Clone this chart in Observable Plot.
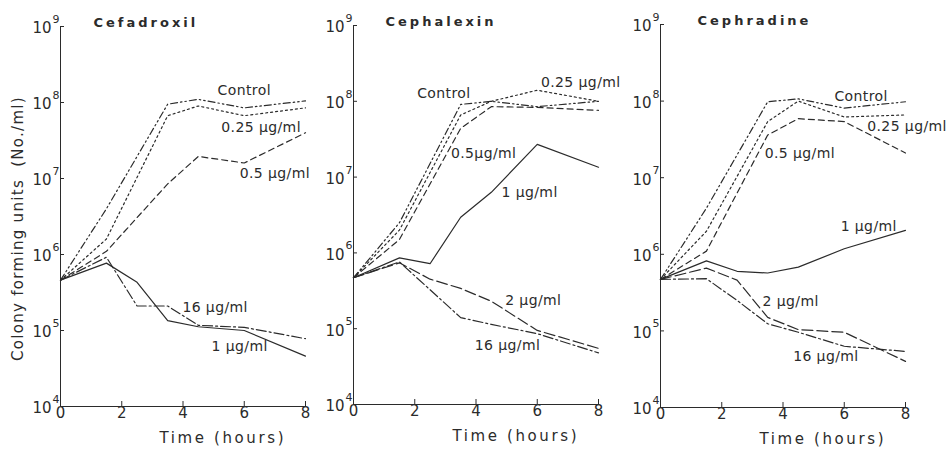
<!DOCTYPE html>
<html>
<head>
<meta charset="utf-8">
<script src="https://cdn.jsdelivr.net/npm/d3@7"></script>
<script src="https://cdn.jsdelivr.net/npm/@observablehq/plot@0.6"></script>
<style>
  html, body { margin: 0; padding: 0; background: #fff; }
  #wrap { position: relative; width: 948px; height: 449px; overflow: hidden; }
  #wrap svg { position: absolute; top: 0; overflow: visible; }
</style>
</head>
<body>
<div id="wrap"></div>
<script>
// ---------- data ----------
const times = [0, 1.5, 2.5, 3.5, 4.5, 6, 8];
const panels = ["Cefadroxil", "Cephalexin", "Cephradine"];
const seriesNames = ["Control", "0.25 µg/ml", "0.5 µg/ml", "1 µg/ml", "2 µg/ml", "16 µg/ml"];
const yTicks = [1e4, 1e5, 1e6, 1e7, 1e8, 1e9];
const yTickExponents = ["4", "5", "6", "7", "8", "9"];
const xTicks = [0, 2, 4, 6, 8];
const xTitle = "Time (hours)";
const yTitle = "Colony forming units  (No./ml)";

// Cefadroxil
const cefadroxilControl = [4.6e5, 4.0e6, null, 9.5e7, 1.1e8, 8.5e7, 1.05e8];
const cefadroxil025     = [4.6e5, 1.6e6, null, 6.7e7, 9.0e7, 6.7e7, 8.5e7];
const cefadroxil05      = [4.6e5, 1.1e6, null, 8.5e6, 1.95e7, 1.6e7, 4.0e7];
const cefadroxil1       = [4.6e5, 7.7e5, 4.3e5, 1.35e5, 1.12e5, 1.0e5, 4.6e4];
const cefadroxil16      = [4.6e5, 9.2e5, 2.1e5, 2.1e5, 1.17e5, 1.1e5, 7.8e4];

// Cephalexin
const cephalexinControl = [4.7e5, 2.5e6, null, 9.1e7, 1.0e8, 8.5e7, 1.0e8];
const cephalexin025     = [4.7e5, 2.0e6, null, 6.6e7, 1.0e8, 1.4e8, 1.0e8];
const cephalexin05      = [4.7e5, 1.5e6, null, 4.4e7, 8.5e7, 8.3e7, 7.6e7];
const cephalexin1       = [4.7e5, 8.6e5, 7.2e5, 2.95e6, 6.3e6, 2.7e7, 1.35e7];
const cephalexin2       = [4.7e5, 7.4e5, 4.5e5, 3.4e5, 2.3e5, 9.5e4, 5.5e4];
const cephalexin16      = [4.7e5, 7.6e5, null, 1.4e5, 1.14e5, 8.6e4, 4.8e4];

// Cephradine
const cephradineControl = [4.7e5, 4.0e6, null, 9.8e7, 1.07e8, 8.1e7, 9.8e7];
const cephradine025     = [4.7e5, 2.0e6, null, 5.4e7, 1.0e8, 6.2e7, 6.6e7];
const cephradine05      = [4.7e5, 1.1e6, null, 3.6e7, 5.9e7, 5.4e7, 2.1e7];
const cephradine1       = [4.7e5, 8.2e5, 6.0e5, 5.7e5, 6.8e5, 1.18e6, 2.05e6];
const cephradine2       = [4.7e5, 6.6e5, 4.6e5, 1.5e5, 1.04e5, 9.6e4, 4.0e4];
const cephradine16      = [4.7e5, 4.8e5, 2.5e5, 1.24e5, 9.6e4, 6.3e4, 5.4e4];

// Label anchor positions [text, time, value] per panel
const cefadroxilLabels = [["Control", 6.0, 1.45e8], ["0.25 µg/ml", 6.55, 4.7e7], ["0.5 µg/ml", 7.0, 1.17e7], ["16 µg/ml", 5.05, 2.0e5], ["1 µg/ml", 5.85, 6.2e4]];
const cephalexinLabels = [["Control", 2.95, 1.26e8], ["0.25 µg/ml", 7.42, 1.78e8], ["0.5µg/ml", 4.25, 2.05e7], ["1 µg/ml", 5.75, 6.3e6], ["2 µg/ml", 5.87, 2.35e5], ["16 µg/ml", 5.03, 6.0e4]];
const cephradineLabels = [["Control", 6.55, 1.15e8], ["0.25 µg/ml", 8.05, 4.7e7], ["0.5 µg/ml", 4.55, 2.05e7], ["1 µg/ml", 6.8, 2.3e6], ["2 µg/ml", 4.25, 2.4e5], ["16 µg/ml", 5.4, 4.6e4]];

// ---------- styling ----------
const dashes = {
  "Control": "7,3,1.5,3,1.5,3",
  "0.25 µg/ml": "2,3",
  "0.5 µg/ml": "6,4",
  "1 µg/ml": null,
  "2 µg/ml": "11,4",
  "16 µg/ml": "10,3,2,3"
};
const ink = "#2b2b2b";
const font = "'DejaVu Sans', sans-serif";

function buildRows(seriesArrays) {
  const rows = [];
  for (const [name, values] of seriesArrays) {
    values.forEach((v, i) => { if (v != null) rows.push({series: name, t: times[i], v}); });
  }
  return rows;
}

const panelData = [
  {title: panels[0], left: 0, width: 312, ml: 60, mt: 26, mb: 43, yLabel: true,
   series: [["Control", cefadroxilControl], ["0.25 µg/ml", cefadroxil025], ["0.5 µg/ml", cefadroxil05], ["1 µg/ml", cefadroxil1], ["16 µg/ml", cefadroxil16]],
   labels: cefadroxilLabels, titleDx: 33},
  {title: panels[1], left: 312, width: 312, ml: 41, mt: 25, mb: 45,
   series: [["Control", cephalexinControl], ["0.25 µg/ml", cephalexin025], ["0.5 µg/ml", cephalexin05], ["1 µg/ml", cephalexin1], ["2 µg/ml", cephalexin2], ["16 µg/ml", cephalexin16]],
   labels: cephalexinLabels, titleDx: 32},
  {title: panels[2], left: 624, width: 324, ml: 36, mt: 24, mb: 42,
   series: [["Control", cephradineControl], ["0.25 µg/ml", cephradine025], ["0.5 µg/ml", cephradine05], ["1 µg/ml", cephradine1], ["2 µg/ml", cephradine2], ["16 µg/ml", cephradine16]],
   labels: cephradineLabels, titleDx: 37}
];

const wrap = document.getElementById("wrap");

for (const p of panelData) {
  const plotW = 245;
  const rows = buildRows(p.series);
  const marks = [
    Plot.axisY({ticks: yTicks, tickFormat: () => "", tickSize: -4, label: null}),
    // "10" base and exponent drawn as two texts at each log tick
    Plot.text(yTicks, {y: (d) => d, frameAnchor: "left", dx: -9, dy: 2, text: () => "10",
                       textAnchor: "end", fontSize: 15, fill: ink}),
    Plot.text(yTicks, {y: (d) => d, frameAnchor: "left", dx: -8, dy: -7, text: (d, i) => yTickExponents[i],
                       textAnchor: "start", fontSize: 11, fill: ink}),
    Plot.axisX({ticks: xTicks, tickFormat: (d) => String(d), tickSize: -5, tickPadding: 6, fontSize: 15, label: null}),
    Plot.ruleY([1e4], {stroke: ink, strokeWidth: 1}),
    Plot.ruleX([0], {stroke: ink, strokeWidth: 1})
  ];
  for (const [name] of p.series) {
    marks.push(Plot.line(rows.filter(r => r.series === name), {
      x: "t", y: "v", stroke: ink, strokeWidth: 1.2,
      strokeDasharray: dashes[name] || undefined
    }));
  }
  marks.push(Plot.text(p.labels, {
    x: (d) => d[1], y: (d) => d[2], text: (d) => d[0],
    fontSize: 14, fill: ink, textAnchor: "middle"
  }));
  marks.push(Plot.text([p.title], {
    frameAnchor: "top-left", dx: p.titleDx, dy: -9, textAnchor: "start",
    fontSize: 13, fontWeight: "bold", fill: ink
  }));
  marks.push(Plot.text([xTitle], {
    x: () => 5.3, y: () => 1e4, dy: 32, textAnchor: "middle",
    fontSize: 15, fill: ink
  }));
  if (p.yLabel) {
    marks.push(Plot.text([yTitle], {
      frameAnchor: "left", dx: -42, dy: 12, rotate: -90, textAnchor: "middle",
      fontSize: 15, fill: ink
    }));
  }
  const chart = Plot.plot({
    width: p.width,
    height: 449,
    marginLeft: p.ml,
    marginRight: p.width - p.ml - plotW,
    marginTop: p.mt,
    marginBottom: p.mb,
    style: {fontFamily: font, color: ink, background: "transparent", overflow: "visible"},
    x: {domain: [0, 8]},
    y: {type: "log", domain: [1e4, 1e9]},
    marks
  });
  chart.style.left = p.left + "px";
  // letter spacing for the hand-lettered look (applied by text content)
  const labelTexts = new Set(p.labels.map(d => d[0]));
  d3.select(chart).selectAll("text").each(function () {
    const s = this.textContent;
    let ls = null;
    if (s === p.title) ls = "3px";
    else if (s === xTitle) ls = "2.6px";
    else if (s === yTitle) ls = "1.3px";
    else if (labelTexts.has(s)) ls = "0.4px";
    if (ls) { this.style.letterSpacing = ls; this.setAttribute("letter-spacing", ls); }
  });
  wrap.appendChild(chart);
}
</script>
</body>
</html>
